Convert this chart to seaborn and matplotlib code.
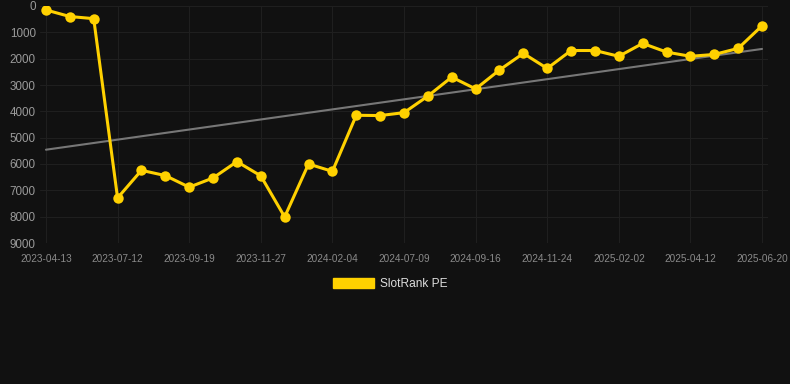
import numpy as np
import pandas as pd
import matplotlib
matplotlib.use("Agg")
import matplotlib.pyplot as plt
import seaborn as sns

# dates of the snapshots (intermediate ones estimated, labels every third)
dates = [
    "2023-04-13", "2023-05-13", "2023-06-12", "2023-07-12", "2023-08-04", "2023-08-27",
    "2023-09-19", "2023-10-12", "2023-11-04", "2023-11-27", "2023-12-20", "2024-01-12",
    "2024-02-04", "2024-03-25", "2024-05-15", "2024-07-09", "2024-08-01", "2024-08-24",
    "2024-09-16", "2024-10-09", "2024-11-01", "2024-11-24", "2024-12-17", "2025-01-09",
    "2025-02-02", "2025-02-25", "2025-03-20", "2025-04-12", "2025-05-05", "2025-05-28",
    "2025-06-20",
]
rank = [
    150, 400, 480, 7290, 6240, 6440, 6880, 6530, 5910, 6450, 8010, 6000,
    6280, 4150, 4160, 4050, 3420, 2700, 3150, 2430, 1800, 2370, 1690, 1690,
    1910, 1420, 1750, 1910, 1840, 1610, 750,
]
tick_labels = dates[::3]
series_name = "SlotRank PE"

df = pd.DataFrame({"date": dates, "rank": rank})
df["idx"] = np.arange(len(df))

# linear trend over the points
coef = np.polyfit(df["idx"], df["rank"], 1)
df["trend"] = np.polyval(coef, df["idx"])

bg = "#111111"
gold = "#FFD100"

sns.set_style("dark")
plt.rcParams["font.family"] = ["Liberation Sans", "DejaVu Sans"]

fig = plt.figure(figsize=(7.9, 3.84), dpi=100, facecolor=bg)
ax = fig.add_axes([40 / 790, 1 - 243 / 384, 728 / 790, 237 / 384])
ax.set_facecolor(bg)

sns.lineplot(data=df, x="idx", y="trend", ax=ax, color="#777777", linewidth=1.5)
sns.lineplot(data=df, x="idx", y="rank", ax=ax, color=gold, linewidth=2.2,
             marker="o", markersize=7.5, markeredgewidth=0, label=series_name)

ax.set_xlim(-0.25, len(df) - 0.75)
ax.set_ylim(9000, 0)
ax.set_yticks(range(0, 9001, 1000))
ax.set_yticklabels([str(v) for v in range(0, 9001, 1000)], color="#9a9a9a", fontsize=8.4)
ax.set_xticks(df["idx"][::3])
ax.set_xticklabels(tick_labels, color="#8a8a8a", fontsize=7.2)
ax.set_xlabel("")
ax.set_ylabel("")
ax.grid(True, color="#1f1f1f", linewidth=0.8)
ax.tick_params(axis="both", length=0)
ax.tick_params(axis="x", pad=8)
ax.tick_params(axis="y", pad=3)
for s in ax.spines.values():
    s.set_visible(False)

handles = [plt.Rectangle((0, 0), 1, 1, color=gold)]
leg = fig.legend(handles, [series_name], loc="center", bbox_to_anchor=(390 / 790, 1 - 284 / 384),
                 frameon=False, handlelength=3.4, handleheight=1.0, fontsize=8.6,
                 labelcolor="#dddddd", handletextpad=0.5)
ax.get_legend().remove()

fig.savefig("out.png", dpi=100, facecolor=bg)
